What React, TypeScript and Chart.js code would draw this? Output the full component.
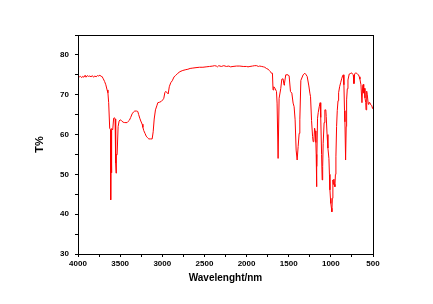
import React, { useEffect, useRef } from "react";
import { Chart, registerables } from "chart.js";

Chart.register(...registerables);

const wavenumbers: number[] = [
  4000, 3985, 3970, 3955, 3945, 3930, 3915, 3905, 3890, 3875, 3860, 3845, 3830, 3815, 3800, 3785, 3770, 3755, 3740, 3725,
  3715, 3700, 3684, 3670, 3655, 3645, 3636, 3624, 3614, 3612, 3608, 3604, 3598, 3588, 3577, 3565, 3560, 3553, 3548, 3545,
  3536, 3524, 3512, 3500, 3485, 3465, 3446, 3417, 3405, 3390, 3375, 3358, 3340, 3327, 3305, 3291, 3280, 3267, 3255, 3239,
  3230, 3220, 3205, 3191, 3175, 3160, 3140, 3120, 3108, 3096, 3081, 3065, 3053, 3035, 3013, 2995, 2982, 2970, 2962, 2945,
  2930, 2917, 2900, 2882, 2860, 2843, 2815, 2790, 2756, 2720, 2696, 2670, 2637, 2600, 2560, 2518, 2480, 2440, 2400, 2380,
  2359, 2345, 2330, 2300, 2270, 2240, 2210, 2190, 2161, 2120, 2080, 2040, 2000, 1983, 1960, 1930, 1903, 1880, 1860, 1844,
  1820, 1800, 1784, 1765, 1745, 1730, 1717, 1705, 1693, 1686, 1677, 1662, 1645, 1638, 1626, 1614, 1594, 1582, 1567, 1555,
  1550, 1535, 1507, 1495, 1479, 1463, 1448, 1436, 1424, 1412, 1400, 1388, 1376, 1368, 1356, 1329, 1309, 1300, 1281, 1261,
  1249, 1241, 1229, 1217, 1210, 1202, 1193, 1186, 1178, 1174, 1170, 1166, 1158, 1150, 1138, 1127, 1120, 1110, 1103, 1097,
  1091, 1080, 1071, 1060, 1055, 1045, 1035, 1023, 1017, 1011, 1005, 1000, 993, 988, 982, 976, 970, 964, 958, 952,
  946, 940, 932, 924, 915, 908, 896, 884, 872, 860, 853, 845, 838, 833, 825, 818, 813, 805, 797, 782,
  770, 754, 745, 734, 726, 718, 706, 694, 682, 672, 663, 655, 643, 631, 622, 615, 610, 603, 595, 586,
  583, 575, 568, 556, 548, 536, 528, 515, 509, 503, 500,
];

const transmittance: number[] = [
  74.7, 74.5, 74.6, 74.3, 74.6, 74.4, 74.9, 74.4, 74.8, 74.6, 74.7, 74.5, 74.8, 74.4, 74.7, 74.5, 74.8, 74.7, 74.9, 74.6,
  74.6, 74.0, 73.3, 72.5, 71.2, 70.5, 68.0, 61.6, 61.2, 43.6, 61.0, 50.4, 61.5, 61.2, 64.1, 64.2, 63.9, 52.8, 50.3, 55.0,
  54.9, 62.0, 63.4, 63.7, 63.5, 63.1, 63.0, 63.0, 63.3, 63.6, 64.3, 65.2, 65.7, 65.9, 65.9, 65.8, 65.0, 64.1, 63.4, 62.6,
  61.8, 61.0, 60.3, 59.6, 59.2, 58.9, 58.9, 58.9, 60.7, 63.9, 66.2, 67.2, 68.0, 68.1, 68.3, 68.7, 69.1, 70.5, 70.8, 70.6,
  70.2, 72.0, 73.0, 73.5, 74.5, 74.8, 75.4, 75.8, 76.1, 76.3, 76.4, 76.6, 76.7, 76.8, 76.9, 76.9, 77.0, 77.1, 77.2, 77.3,
  77.2, 77.0, 77.3, 77.1, 77.3, 77.1, 77.2, 77.0, 77.1, 77.2, 77.2, 77.1, 77.1, 77.0, 77.1, 77.2, 77.3, 77.3, 77.1, 77.2,
  77.1, 77.0, 76.9, 76.6, 76.4, 76.1, 75.8, 75.4, 75.4, 71.2, 72.0, 71.6, 70.8, 67.9, 54.0, 69.1, 71.6, 73.9, 74.0, 72.4,
  72.9, 75.0, 75.0, 74.7, 70.8, 70.4, 67.9, 67.0, 63.7, 56.1, 53.6, 57.0, 60.3, 63.7, 73.6, 75.0, 75.4, 75.2, 74.6, 72.2,
  70.4, 69.5, 63.5, 59.5, 58.2, 58.3, 61.6, 60.9, 58.0, 55.0, 46.9, 52.0, 64.1, 65.5, 67.0, 68.0, 64.3, 55.0, 48.6, 52.0,
  57.8, 63.0, 66.2, 66.2, 64.5, 60.0, 56.6, 54.0, 50.0, 46.1, 44.0, 42.7, 41.5, 40.6, 44.0, 48.6, 47.5, 48.8, 47.5, 46.9,
  50.0, 54.4, 62.0, 66.0, 68.5, 70.5, 72.0, 73.0, 74.0, 74.8, 75.0, 72.5, 66.0, 63.2, 53.6, 62.0, 68.7, 71.5, 73.7, 75.2,
  75.3, 75.5, 75.2, 75.0, 72.8, 75.2, 75.5, 75.4, 75.1, 75.0, 74.5, 73.9, 72.5, 68.0, 72.4, 72.6, 70.4, 71.6, 69.2, 68.0,
  66.2, 70.9, 70.0, 67.6, 68.0, 68.0, 67.5, 67.3, 66.8, 66.6, 66.4,
];

const xMajorStep = 500;
const yMajorStep = 10;
const xTitle = "Wavelenght/nm";
const yTitle = "T%";

export default function App() {
  const ref = useRef<HTMLCanvasElement | null>(null);

  useEffect(() => {
    document.body.style.margin = "0";
    const canvas = ref.current;
    if (!canvas) return;
    const points = wavenumbers.map((x, i) => ({ x, y: transmittance[i] }));
    const font = "'Liberation Sans', Arial, sans-serif";

    const framePlugin = {
      id: "frame",
      afterDraw(chart: any) {
        const { ctx, chartArea } = chart;
        ctx.save();
        ctx.strokeStyle = "#000";
        ctx.lineWidth = 1;
        ctx.strokeRect(
          Math.round(chartArea.left) + 0.5,
          Math.round(chartArea.top) + 0.5,
          Math.round(chartArea.right) - Math.round(chartArea.left),
          Math.round(chartArea.bottom) - Math.round(chartArea.top)
        );
        ctx.restore();
      },
    };

    const chart = new Chart(canvas, {
      type: "line",
      data: {
        datasets: [
          {
            data: points,
            borderColor: "#ff0000",
            borderWidth: 1,
            pointRadius: 0,
            tension: 0,
            fill: false,
          },
        ],
      },
      options: {
        animation: false,
        responsive: false,
        maintainAspectRatio: false,
        layout: { padding: { left: 0, right: 60, top: 35, bottom: 0 } },
        plugins: { legend: { display: false }, tooltip: { enabled: false } },
        scales: {
          x: {
            type: "linear",
            reverse: true,
            min: 500,
            max: 4000,
            afterFit(scale: any) {
              scale.height = 50;
            },
            ticks: {
              stepSize: 250,
              autoSkip: false,
              maxRotation: 0,
              padding: 2,
              color: "#000",
              font: { family: font, size: 8, weight: "bold" },
              callback: (v: any) => (Number(v) % xMajorStep === 0 ? String(v) : ""),
            },
            grid: { drawOnChartArea: false, drawTicks: true, tickLength: 3, color: "#000" },
            border: { display: true, color: "#000", width: 1 },
            title: {
              display: true,
              text: xTitle,
              color: "#000",
              font: { family: font, size: 10, weight: "bold" },
              padding: { top: 0, bottom: 20 },
            },
          },
          y: {
            min: 30,
            max: 85,
            afterFit(scale: any) {
              scale.width = 78;
            },
            ticks: {
              stepSize: 5,
              autoSkip: false,
              padding: 6,
              color: "#000",
              font: { family: font, size: 8, weight: "bold" },
              callback: (v: any) => (Number(v) % yMajorStep === 0 && Number(v) <= 80 ? String(v) : ""),
            },
            grid: { drawOnChartArea: false, drawTicks: true, tickLength: 3, color: "#000" },
            border: { display: true, color: "#000", width: 1 },
            title: {
              display: true,
              text: yTitle,
              color: "#000",
              font: { family: font, size: 11, weight: "bold" },
              padding: { top: 33, bottom: 0 },
            },
          },
        },
      },
      plugins: [framePlugin],
    });
    return () => chart.destroy();
  }, []);

  return <canvas ref={ref} width={433} height={304} style={{ display: "block" }} />;
}
